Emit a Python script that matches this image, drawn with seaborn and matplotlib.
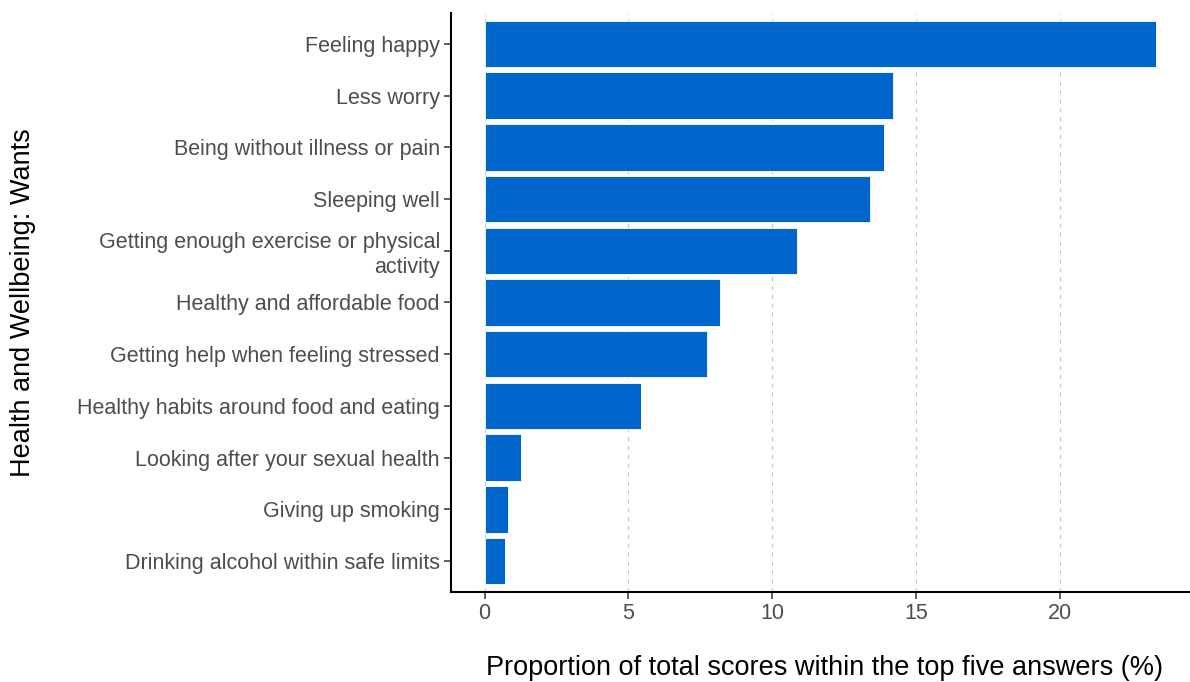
import numpy as np
import pandas as pd
import matplotlib
matplotlib.use("Agg")
import matplotlib.pyplot as plt
import seaborn as sns

# dane
wants = [
    "Feeling happy",
    "Less worry",
    "Being without illness or pain",
    "Sleeping well",
    "Getting enough exercise or physical\nactivity",
    "Healthy and affordable food",
    "Getting help when feeling stressed",
    "Healthy habits around food and eating",
    "Looking after your sexual health",
    "Giving up smoking",
    "Drinking alcohol within safe limits",
]
proportion = [23.37, 14.21, 13.91, 13.42, 10.87, 8.2, 7.75, 5.44, 1.27, 0.82, 0.72]

df = pd.DataFrame({"want": wants, "prop": proportion})

sns.set_theme(style="white")
plt.rcParams["font.family"] = ["Liberation Sans", "DejaVu Sans"]

fig = plt.figure(figsize=(11.9, 6.82), dpi=100)
ax = fig.add_axes([451 / 1190, 1 - 592 / 682, 1 - 451 / 1190, (592 - 13) / 682])

sns.barplot(data=df, x="prop", y="want", order=wants, color="#0066CC",
            saturation=1, width=0.9, edgecolor="white", linewidth=0.6, ax=ax)

ax.set_xlim(-1.17, 24.54)
ax.set_ylim(len(wants) - 0.4, -0.6)
ax.set_xticks([0, 5, 10, 15, 20])
ax.xaxis.grid(True, color="#c8c8c8", linestyle=(0, (4, 4)), linewidth=0.8)
ax.yaxis.grid(False)
ax.set_axisbelow(True)

for side in ["top", "right"]:
    ax.spines[side].set_visible(False)
for side in ["left", "bottom"]:
    ax.spines[side].set_color("black")
    ax.spines[side].set_linewidth(1.5)

ax.tick_params(axis="both", which="major", length=5, width=1.1, color="#333333",
               labelsize=15.5, labelcolor="#4d4d4d", bottom=True, left=True)
ax.tick_params(axis="y", pad=3)
ax.tick_params(axis="x", pad=3)

ax.set_xlabel("Proportion of total scores within the top five answers (%)",
              fontsize=19.5, color="black")
ax.set_ylabel("Health and Wellbeing: Wants", fontsize=19.5, color="black")
ax.xaxis.set_label_coords(0.505, -0.108)
ax.yaxis.set_label_coords(-0.562, 0.5)

fig.savefig("out.png", dpi=100)
